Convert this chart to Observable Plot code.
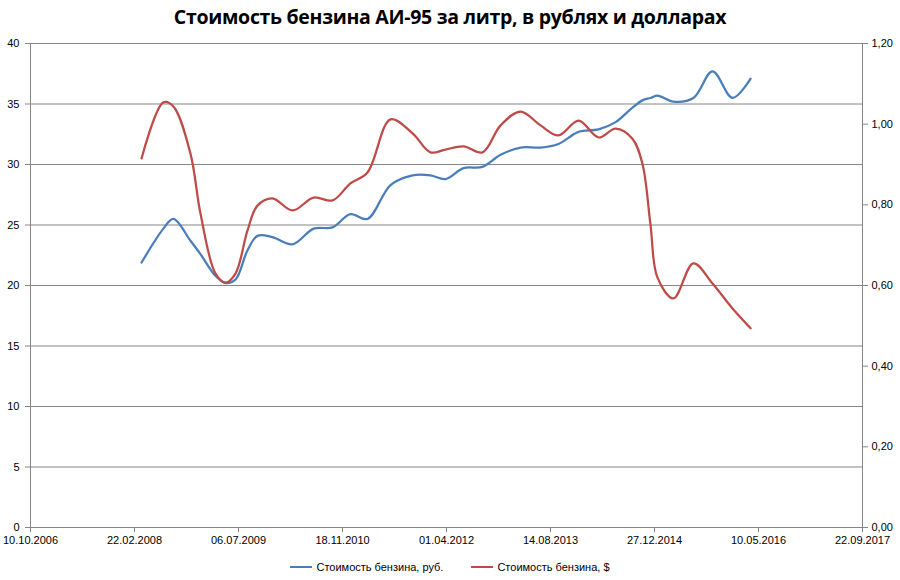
<!DOCTYPE html>
<html>
<head>
<meta charset="utf-8">
<script src="https://cdn.jsdelivr.net/npm/d3@7"></script>
<script src="https://cdn.jsdelivr.net/npm/@observablehq/plot@0.6"></script>
<style>
  body { margin: 0; background: #fff; width: 900px; height: 580px; overflow: hidden; font-family: "Liberation Sans Narrow", "Liberation Sans", Arial, sans-serif; }
  #title { height: 34px; line-height: 34px; text-align: center; font-family: "Open Sans", "Liberation Sans", sans-serif; font-weight: bold; font-size: 19.5px; color: #000; letter-spacing: -0.3px; }
  #legend { height: 26px; display: flex; justify-content: center; align-items: center; font-size: 11px; color: #000; padding-left: 0px; }
  .item { display: flex; align-items: center; margin: 0 14px; }
  .sw { width: 22px; height: 2px; margin-right: 4px; }
  svg { display: block; }
</style>
</head>
<body>
<div id="title">Стоимость бензина АИ-95 за литр, в рублях и долларах</div>
<div id="chart"></div>
<div id="legend"></div>
<script>
const dates = ["2008-03-27","2008-07-10","2008-08-27","2008-11-17","2009-01-04","2009-03-17","2009-05-05","2009-06-22","2009-08-18","2009-10-05","2009-12-16","2010-03-23","2010-07-02","2010-10-01","2010-12-26","2011-03-18","2011-07-07","2011-10-21","2012-01-15","2012-03-27","2012-06-22","2012-09-21","2012-12-17","2013-03-23","2013-06-27","2013-09-21","2013-12-27","2014-04-02","2014-06-23","2014-09-12","2014-10-30","2014-12-08","2015-01-10","2015-03-28","2015-07-02","2015-10-02","2016-01-06","2016-04-02"];
const rub = [21.9,24.7,25.5,23.7,22.6,20.8,20.2,20.5,22.9,24.1,24.0,23.4,24.7,24.8,25.9,25.5,28.3,29.1,29.1,28.8,29.7,29.8,30.8,31.4,31.4,31.7,32.7,32.9,33.5,34.7,35.3,35.5,35.7,35.2,35.5,37.7,35.5,37.1];
const usd = [0.915,1.054,1.044,0.927,0.779,0.630,0.607,0.630,0.736,0.798,0.816,0.786,0.818,0.811,0.853,0.880,1.012,0.977,0.930,0.937,0.945,0.930,0.997,1.031,0.997,0.972,1.009,0.967,0.989,0.964,0.902,0.749,0.620,0.568,0.655,0.605,0.543,0.494];
const xTickLabels = ["10.10.2006","22.02.2008","06.07.2009","18.11.2010","01.04.2012","14.08.2013","27.12.2014","10.05.2016","22.09.2017"];
const leftTicks = [0,5,10,15,20,25,30,35,40];
const rightTicks = [0,0.2,0.4,0.6,0.8,1.0,1.2];
const seriesNames = ["Стоимость бензина, руб.","Стоимость бензина, $"];
const colors = ["#4A7EBB","#BE4B48"];

const parseLabel = s => { const [d,m,y] = s.split("."); return new Date(Date.UTC(+y, +m-1, +d)); };
const xTicks = xTickLabels.map(parseLabel);
const k = 40 / 1.2;
const rubData = dates.map((d,i) => ({date: new Date(d), v: rub[i]}));
const usdData = dates.map((d,i) => ({date: new Date(d), v: usd[i] * k}));
const fmt = d3.utcFormat("%d.%m.%Y");

const chart = Plot.plot({
  width: 900,
  height: 520,
  marginLeft: 30,
  marginRight: 38,
  marginTop: 9,
  marginBottom: 27,
  style: {fontFamily: "'Liberation Sans Narrow', 'Liberation Sans', Arial, sans-serif", fontSize: "11px", color: "#000", background: "#fff"},
  x: {type: "utc", domain: [xTicks[0], xTicks[xTicks.length-1]]},
  y: {domain: [0, 40]},
  marks: [
    Plot.gridY(leftTicks.slice(1), {stroke: "#868686", strokeOpacity: 1, strokeWidth: 1}),
    Plot.ruleY([0], {stroke: "#868686", strokeWidth: 1}),
    Plot.ruleX([xTicks[0], xTicks[xTicks.length-1]], {stroke: "#868686", strokeWidth: 1}),
    Plot.axisX({ticks: xTicks, tickFormat: fmt, tickSize: 5, tickPadding: 4, stroke: "#868686", label: null, fill: "#000"}),
    Plot.axisY({ticks: leftTicks, tickSize: 5, tickPadding: 6, label: null, anchor: "left", stroke: "#868686", fill: "#000"}),
    Plot.axisY({ticks: rightTicks.map(v => v * k), tickFormat: d => (d / k).toFixed(2).replace(".", ","), tickSize: 5, tickPadding: 4, label: null, anchor: "right", stroke: "#868686", fill: "#000"}),
    Plot.line(rubData, {x: "date", y: "v", stroke: colors[0], strokeWidth: 2.25, curve: "catmull-rom"}),
    Plot.line(usdData, {x: "date", y: "v", stroke: colors[1], strokeWidth: 2.25, curve: "catmull-rom"})
  ]
});
document.getElementById("chart").appendChild(chart);

const legend = document.getElementById("legend");
seriesNames.forEach((n, i) => {
  const it = document.createElement("div");
  it.className = "item";
  it.innerHTML = `<span class="sw" style="background:${colors[i]}"></span><span>${n}</span>`;
  legend.appendChild(it);
});
</script>
</body>
</html>
